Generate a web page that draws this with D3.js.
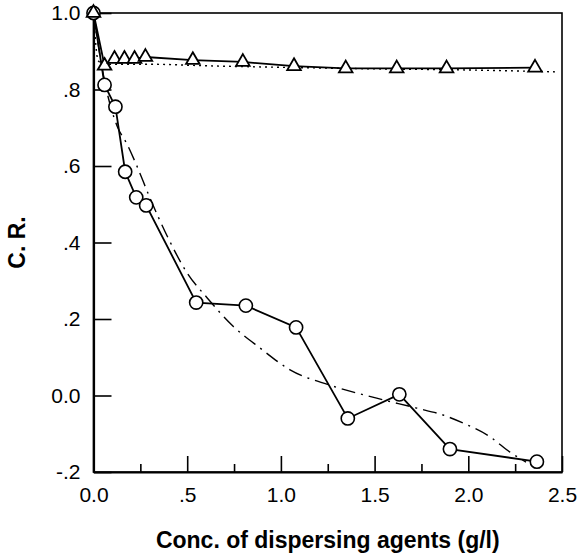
<!DOCTYPE html>
<html>
<head>
<meta charset="utf-8">
<script src="https://d3js.org/d3.v7.min.js"></script>
<style>
  body { margin: 0; background: #fff; }
  text { font-family: "Liberation Sans", Arial, sans-serif; fill: #000; }
</style>
</head>
<body>
<div id="chart"></div>
<script>
// circles series (C.R. vs concentration)
circleX = [0, 0.059, 0.117, 0.169, 0.228, 0.281, 0.548, 0.813, 1.081, 1.357, 1.632, 1.902, 2.366]
circleY = [1.0, 0.812, 0.755, 0.585, 0.518, 0.497, 0.243, 0.235, 0.178, -0.06, 0.003, -0.14, -0.173]

// triangles series
triX = [0, 0.059, 0.112, 0.165, 0.219, 0.277, 0.53, 0.797, 1.07, 1.346, 1.618, 1.884, 2.356]
triY = [1.0, 0.862, 0.88, 0.88, 0.88, 0.885, 0.877, 0.872, 0.861, 0.855, 0.855, 0.855, 0.857]

// fitted curves
fitCircX = [0, 0.06, 0.128, 0.176, 0.229, 0.299, 0.4, 0.5, 0.607, 0.745, 0.889, 1.049, 1.262, 1.511, 1.725, 1.865, 1.972, 2.116, 2.222, 2.308]
fitCircY = [1.0, 0.82, 0.702, 0.66, 0.603, 0.519, 0.41, 0.32, 0.255, 0.181, 0.124, 0.067, 0.027, -0.007, -0.033, -0.051, -0.072, -0.108, -0.148, -0.174]
fitTriX = [0, 0.025, 0.06, 0.3, 0.6, 1.0, 1.5, 2.0, 2.48]
fitTriY = [1.0, 0.875, 0.866, 0.866, 0.862, 0.858, 0.854, 0.851, 0.846]

xTicks = [0, 0.5, 1.0, 1.5, 2.0, 2.5]
xTickLabels = ["0.0", ".5", "1.0", "1.5", "2.0", "2.5"]
xMinor = [0.25, 0.75, 1.25, 1.75, 2.25]
yTicks = [1.0, 0.8, 0.6, 0.4, 0.2, 0.0, -0.2]
yTickLabels = ["1.0", ".8", ".6", ".4", ".2", "0.0", "-.2"]

width = 581
height = 559
margin = {top: 13, right: 19, bottom: 87, left: 93.5}

svg = d3.select('#chart')
    .append('svg')
    .attr('width', width)
    .attr('height', height)

x = d3.scaleLinear().domain([0, 2.5]).range([margin.left, width - margin.right])
y = d3.scaleLinear().domain([-0.2, 1.0]).range([height - margin.bottom, margin.top])

zip = (a, b) => a.map((v, i) => [v, b[i]])

// frame (top + right)
svg.append('rect')
  .attr('x', x(0)).attr('y', y(1))
  .attr('width', x(2.5) - x(0)).attr('height', y(-0.2) - y(1))
  .attr('fill', 'none').attr('stroke', '#000').attr('stroke-width', 1.6)

// x axis
xAxis = svg.append('g')
  .attr('transform', `translate(0,${y(-0.2)})`)
  .call(d3.axisBottom(x).tickValues(xTicks)
    .tickFormat((d, i) => xTickLabels[i])
    .tickSizeInner(-16).tickSizeOuter(0).tickPadding(15))
svg.append('g')
  .attr('transform', `translate(0,${y(-0.2)})`)
  .call(d3.axisBottom(x).tickValues(xMinor).tickFormat('').tickSizeInner(-8).tickSizeOuter(0))
  .call(g => g.select('.domain').remove())

// y axis
yAxis = svg.append('g')
  .attr('transform', `translate(${x(0)},0)`)
  .call(d3.axisLeft(y).tickValues(yTicks)
    .tickFormat((d, i) => yTickLabels[i])
    .tickSizeInner(-18).tickSizeOuter(0).tickPadding(13))

svg.selectAll('.domain').attr('stroke-width', 2.2)
svg.selectAll('.tick line').attr('stroke-width', 1.6)
svg.selectAll('.tick text').attr('font-size', 21).style('font-family', '"Liberation Sans", Arial, sans-serif')

// axis titles
svg.append('text')
  .attr('x', (x(0) + x(2.5)) / 2).attr('y', 548)
  .attr('text-anchor', 'middle')
  .attr('font-size', 23).attr('font-weight', 'bold')
  .text('Conc. of dispersing agents (g/l)')

svg.append('text')
  .attr('transform', `translate(25,${(y(1) + y(-0.2)) / 2}) rotate(-90)`)
  .attr('text-anchor', 'middle')
  .attr('font-size', 23).attr('font-weight', 'bold')
  .text('C. R.')

line = d3.line().x(d => x(d[0])).y(d => y(d[1]))
curve = d3.line().x(d => x(d[0])).y(d => y(d[1])).curve(d3.curveMonotoneX)

// fits
svg.append('path')
  .attr('d', curve(zip(fitCircX, fitCircY)))
  .attr('fill', 'none').attr('stroke', '#000').attr('stroke-width', 1.4)
  .attr('stroke-dasharray', '14,6,2,6')
svg.append('path')
  .attr('d', curve(zip(fitTriX, fitTriY)))
  .attr('fill', 'none').attr('stroke', '#000').attr('stroke-width', 1.4)
  .attr('stroke-dasharray', '2,4')

// data lines
svg.append('path')
  .attr('d', line(zip(circleX, circleY)))
  .attr('fill', 'none').attr('stroke', '#000').attr('stroke-width', 1.8)
svg.append('path')
  .attr('d', line(zip(triX, triY)))
  .attr('fill', 'none').attr('stroke', '#000').attr('stroke-width', 1.8)

// markers
svg.selectAll('.circ')
  .data(zip(circleX, circleY))
  .enter().append('circle')
  .attr('class', 'circ')
  .attr('cx', d => x(d[0])).attr('cy', d => y(d[1]))
  .attr('r', 6.6)
  .attr('fill', '#fff').attr('stroke', '#000').attr('stroke-width', 1.6)

svg.selectAll('.tri')
  .data(zip(triX, triY))
  .enter().append('path')
  .attr('class', 'tri')
  .attr('transform', d => `translate(${x(d[0])},${y(d[1])})`)
  .attr('d', d3.symbol(d3.symbolTriangle, 80))
  .attr('fill', '#fff').attr('stroke', '#000').attr('stroke-width', 1.8)
</script>
</body>
</html>
